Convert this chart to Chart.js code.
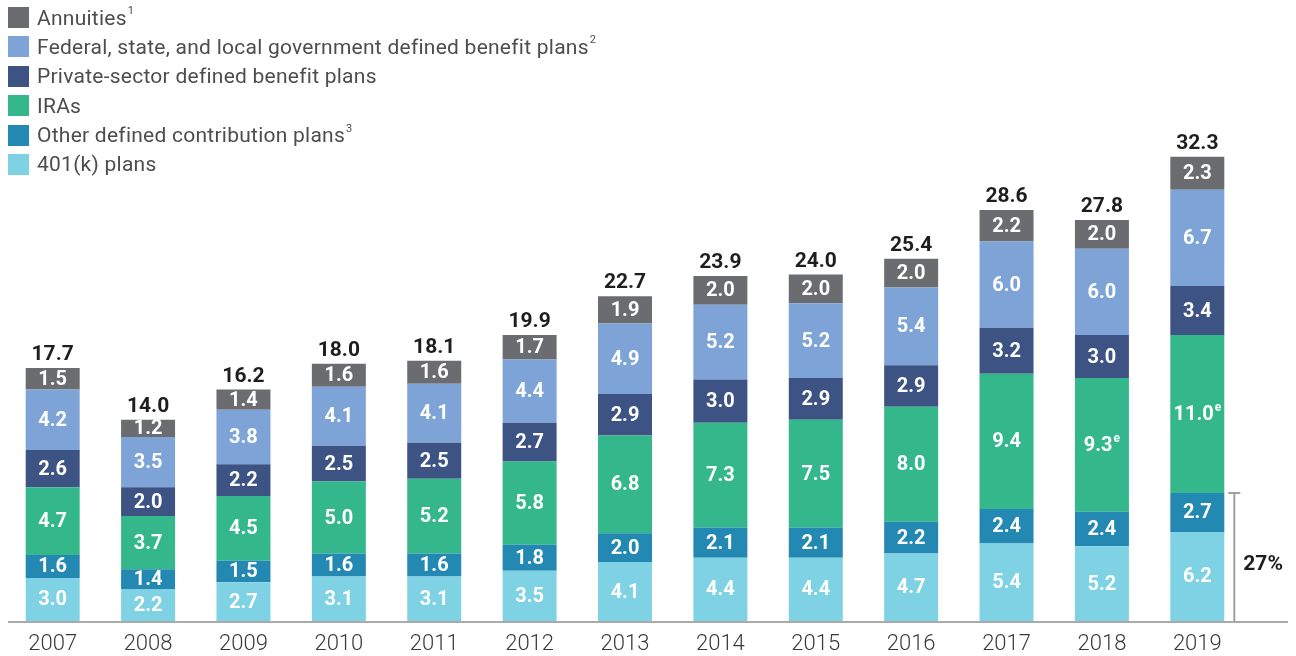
<!DOCTYPE html>
<html>
<head>
<meta charset="utf-8">
<script src="https://cdn.jsdelivr.net/npm/chart.js@4.4.1/dist/chart.umd.min.js"></script>
<style>
  html, body { margin: 0; padding: 0; background: #ffffff; }
  #wrap { position: relative; width: 1296px; height: 656px; overflow: hidden; }
  #legend { position: absolute; left: 8px; top: 7px; font-family: Roboto, "Open Sans", sans-serif; font-weight: 400; font-size: 21px; letter-spacing: 0.25px; color: #4d4d4d; }
  .row { display: flex; align-items: center; height: 21px; margin-bottom: 8.4px; white-space: nowrap; }
  .sw { width: 21px; height: 21px; margin-right: 8px; flex: none; }
  .row sup { font-size: 11px; vertical-align: 0; position: relative; top: -7px; margin-left: 1px; letter-spacing: 0; }
</style>
</head>
<body>
<div id="wrap">
  <canvas id="c" width="1296" height="656"></canvas>
  <div id="legend"></div>
</div>
<script>
const years = ['2007','2008','2009','2010','2011','2012','2013','2014','2015','2016','2017','2018','2019'];
const k401 = [3.0,2.2,2.7,3.1,3.1,3.5,4.1,4.4,4.4,4.7,5.4,5.2,6.2];
const otherDC = [1.6,1.4,1.5,1.6,1.6,1.8,2.0,2.1,2.1,2.2,2.4,2.4,2.7];
const iras = [4.7,3.7,4.5,5.0,5.2,5.8,6.8,7.3,7.5,8.0,9.4,9.3,11.0];
const iraNotes = ['','','','','','','','','','','','e','e'];
const privateDB = [2.6,2.0,2.2,2.5,2.5,2.7,2.9,3.0,2.9,2.9,3.2,3.0,3.4];
const govDB = [4.2,3.5,3.8,4.1,4.1,4.4,4.9,5.2,5.2,5.4,6.0,6.0,6.7];
const annuities = [1.5,1.2,1.4,1.6,1.6,1.7,1.9,2.0,2.0,2.0,2.2,2.0,2.3];
const totals = [17.7,14.0,16.2,18.0,18.1,19.9,22.7,23.9,24.0,25.4,28.6,27.8,32.3];
const seriesNames = ['401(k) plans','Other defined contribution plans','IRAs','Private-sector defined benefit plans','Federal, state, and local government defined benefit plans','Annuities'];
const seriesNotes = ['','3','','','2','1'];
const seriesColors = ['#7fd2e4','#2388b2','#34b78a','#3c5384','#7ea3d7','#6b6c70'];
const shareLabel = '27%';

const seriesValues = [k401, otherDC, iras, privateDB, govDB, annuities];
const seriesLabelNotes = [null, null, iraNotes, null, null, null];

// HTML legend (top series first)
const legendEl = document.getElementById('legend');
for (let i = seriesNames.length - 1; i >= 0; i--) {
  const row = document.createElement('div');
  row.className = 'row';
  const sw = document.createElement('span');
  sw.className = 'sw';
  sw.style.background = seriesColors[i];
  row.appendChild(sw);
  const t = document.createElement('span');
  t.textContent = seriesNames[i];
  row.appendChild(t);
  if (seriesNotes[i]) {
    const s = document.createElement('sup');
    s.textContent = seriesNotes[i];
    row.appendChild(s);
  }
  legendEl.appendChild(row);
}

const LABEL_FONT = 'bold 20px Roboto, "Open Sans", sans-serif';
const SUP_FONT = 'bold 12px Roboto, "Open Sans", sans-serif';

const labelsPlugin = {
  id: 'labels',
  afterDatasetsDraw(chart) {
    const ctx = chart.ctx;
    const yScale = chart.scales.y;
    ctx.save();
    chart.data.datasets.forEach((ds, i) => {
      const meta = chart.getDatasetMeta(i);
      meta.data.forEach((el, j) => {
        const txt = ds.data[j].toFixed(1);
        const note = seriesLabelNotes[i] ? seriesLabelNotes[i][j] : '';
        ctx.font = LABEL_FONT;
        const w1 = ctx.measureText(txt).width;
        ctx.font = SUP_FONT;
        const w2 = note ? ctx.measureText(note).width + 1 : 0;
        const cy = (el.y + el.base) / 2;
        const x0 = el.x - (w1 + w2) / 2;
        ctx.fillStyle = '#ffffff';
        ctx.textBaseline = 'middle';
        ctx.textAlign = 'left';
        ctx.font = LABEL_FONT;
        ctx.fillText(txt, x0, cy + 1);
        if (note) {
          ctx.font = SUP_FONT;
          ctx.fillText(note, x0 + w1 + 1, cy - 6);
        }
      });
    });
    const topMeta = chart.getDatasetMeta(chart.data.datasets.length - 1);
    ctx.font = 'bold 21px Roboto, "Open Sans", sans-serif';
    ctx.fillStyle = '#1e1e1e';
    ctx.textAlign = 'center';
    ctx.textBaseline = 'alphabetic';
    topMeta.data.forEach((el, j) => {
      ctx.fillText(totals[j].toFixed(1), el.x, el.y - 8);
    });
    const y0 = yScale.getPixelForValue(0);
    ctx.strokeStyle = '#aaaaaa';
    ctx.lineWidth = 2;
    ctx.beginPath();
    ctx.moveTo(8, y0 + 1);
    ctx.lineTo(1288, y0 + 1);
    ctx.stroke();
    const last = years.length - 1;
    const lastEl = topMeta.data[last];
    const yTop = yScale.getPixelForValue(k401[last] + otherDC[last]);
    const bx = lastEl.x + 37;
    ctx.strokeStyle = '#a0a0a0';
    ctx.lineWidth = 2;
    ctx.beginPath();
    ctx.moveTo(bx, y0);
    ctx.lineTo(bx, yTop);
    ctx.moveTo(bx - 6, yTop);
    ctx.lineTo(bx + 6, yTop);
    ctx.stroke();
    ctx.font = 'bold 21px Roboto, "Open Sans", sans-serif';
    ctx.fillStyle = '#1e1e1e';
    ctx.textAlign = 'left';
    ctx.textBaseline = 'middle';
    ctx.fillText(shareLabel, bx + 9, (yTop + y0) / 2 + 8);
    ctx.restore();
  }
};

new Chart(document.getElementById('c'), {
  type: 'bar',
  data: {
    labels: years,
    datasets: seriesValues.map((vals, i) => ({
      label: seriesNames[i],
      data: vals,
      backgroundColor: seriesColors[i],
      borderWidth: 0,
      categoryPercentage: 1,
      barPercentage: 0.566
    }))
  },
  options: {
    responsive: false,
    devicePixelRatio: 1,
    animation: false,
    layout: { padding: { left: 5, right: 51, top: 46, bottom: 0 } },
    plugins: { legend: { display: false }, tooltip: { enabled: false } },
    scales: {
      x: {
        stacked: true,
        grid: { display: false, drawTicks: false },
        border: { display: false },
        afterFit(scale) { scale.height = 35; },
        ticks: {
          color: '#3a3a3a',
          padding: 10,
          font: { family: 'Roboto, sans-serif', size: 22, weight: '300' }
        }
      },
      y: {
        stacked: true,
        display: false,
        min: 0,
        max: 40
      }
    }
  },
  plugins: [labelsPlugin]
});
</script>
</body>
</html>
